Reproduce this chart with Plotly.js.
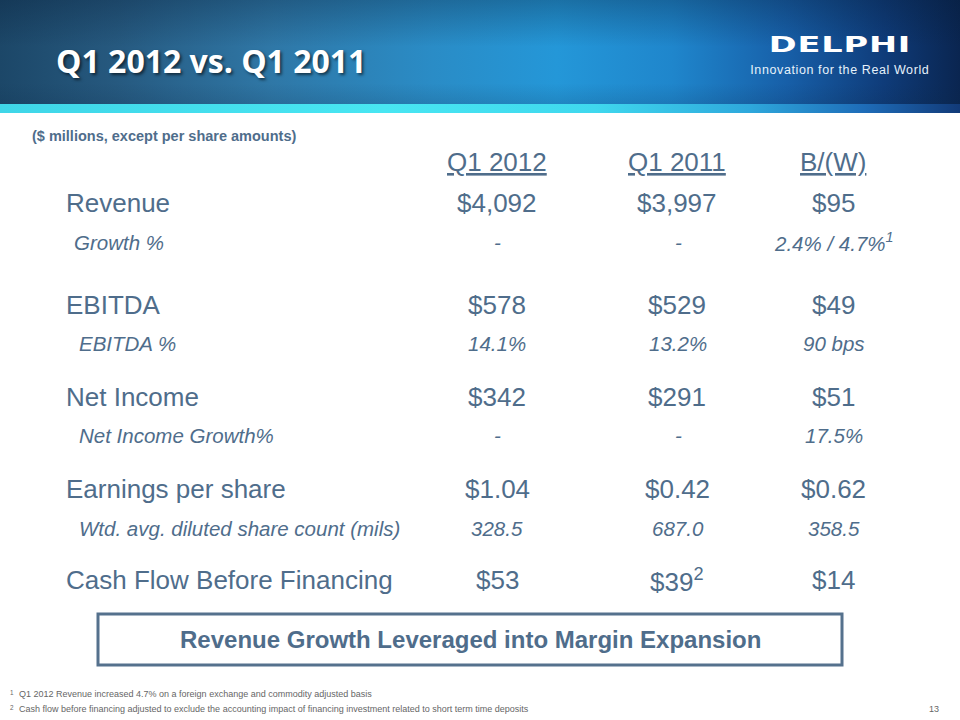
<!DOCTYPE html>
<html>
<head>
<meta charset="utf-8">
<script src="https://cdn.plot.ly/plotly-3.0.1.min.js"></script>
<style>
html,body{margin:0;padding:0;background:#ffffff;}
#wrap{position:relative;width:960px;height:720px;overflow:hidden;background:#ffffff;}
#hdr{position:absolute;left:0;top:0;width:960px;height:104px;
  background:
    linear-gradient(180deg, rgba(5,25,50,0.30) 0%, rgba(0,0,0,0) 45%, rgba(0,0,0,0) 80%, rgba(10,40,70,0.15) 100%),
    linear-gradient(90deg, #1c4768 0%, #26597f 12%, #2f77a6 28%, #2a8cc6 45%, #2497d8 58%, #1f86cc 70%, #175fa8 82%, #0f3c7a 92%, #0a2550 100%);}
#strip{position:absolute;left:0;top:104px;width:960px;height:9px;
  background: linear-gradient(90deg, #3fd6e8 0%, #48e6f2 40%, #3fd8ee 62%, #2ea8dc 78%, #1e6cb8 90%, #123a78 100%);}
#chart{position:absolute;left:0;top:0;width:960px;height:720px;}
</style>
</head>
<body>
<div id="wrap">
  <div id="hdr"></div>
  <div id="strip"></div>
  <div id="chart"></div>
</div>
<script>
// ---- data ----
const slideTitle = 'Q1 2012 vs. Q1 2011';
const unitsNote = '($ millions, except per share amounts)';
const columnHeaders = ['Q1 2012', 'Q1 2011', 'B/(W)'];
const rowLabels = ['Revenue', 'Growth %', 'EBITDA', 'EBITDA %', 'Net Income',
  'Net Income Growth%', 'Earnings per share', 'Wtd. avg. diluted share count (mils)',
  'Cash Flow Before Financing'];
const q1_2012 = ['$4,092', '-', '$578', '14.1%', '$342', '-', '$1.04', '328.5', '$53'];
const q1_2011 = ['$3,997', '-', '$529', '13.2%', '$291', '-', '$0.42', '687.0', '$39<sup>2</sup>'];
const betterWorse = ['$95', '2.4% / 4.7%<sup>1</sup>', '$49', '90 bps', '$51', '17.5%', '$0.62', '358.5', '$14'];
const takeaway = 'Revenue Growth Leveraged into Margin Expansion';
const footnotes = ['Q1 2012 Revenue increased 4.7% on a foreign exchange and commodity adjusted basis',
  'Cash flow before financing adjusted to exclude the accounting impact of financing investment related to short term time deposits'];
const pageNumber = '13';

// ---- layout helpers ----
const TXT = '#4f6d8b';
const rowY = [203, 242, 305, 343, 397, 435, 489, 528, 580];
const isMain = [true, false, true, false, true, false, true, false, true];
const subLabelX = [0, 72, 0, 77, 0, 77, 0, 77, 0];
const colXMain = [497, 677, 833];
const colXSub = [497, 678, 834];
const columns = [q1_2012, q1_2011, betterWorse];

const ann = [];
// title
ann.push({x: 54, y: 60, text: '<b>' + slideTitle + '</b>', xanchor: 'left', yanchor: 'middle',
  font: {family: 'Open Sans', size: 32, color: '#ffffff', weight: 700, shadow: '2px 2px 3px rgba(0,0,0,0.55)'}});
// logo
ann.push({x: 840, y: 45, text: 'DELPHI', xanchor: 'center', yanchor: 'middle',
  font: {family: 'DejaVu Sans', size: 21, color: '#ffffff', weight: 700}});
ann.push({x: 840, y: 70, text: 'Innovation for the Real World', xanchor: 'center', yanchor: 'middle',
  font: {family: 'Liberation Sans', size: 12.5, color: '#e6f2fb'}});
// units note
ann.push({x: 30, y: 136, text: '<b>' + unitsNote + '</b>', xanchor: 'left', yanchor: 'middle',
  font: {family: 'Liberation Sans', size: 14.5, color: TXT}});
// column headers
columnHeaders.forEach((h, i) => {
  ann.push({x: colXMain[i], y: 162, text: '<u>' + h + '</u>', xanchor: 'center', yanchor: 'middle',
    font: {family: 'Liberation Sans', size: 26, color: TXT}});
});
// rows
rowLabels.forEach((lab, r) => {
  const main = isMain[r];
  ann.push({x: main ? 64 : subLabelX[r], y: rowY[r], text: lab, xanchor: 'left', yanchor: 'middle',
    font: {family: 'Liberation Sans', size: main ? 26 : 20.5, color: TXT, style: main ? 'normal' : 'italic'}});
  columns.forEach((col, c) => {
    ann.push({x: main ? colXMain[c] : colXSub[c], y: rowY[r], text: col[r], xanchor: 'center', yanchor: 'middle',
      font: {family: 'Liberation Sans', size: main ? 26 : 20.5, color: TXT, style: main ? 'normal' : 'italic'}});
  });
});
// takeaway box text
ann.push({x: 470, y: 639, text: '<b>' + takeaway + '</b>', xanchor: 'center', yanchor: 'middle',
  font: {family: 'Liberation Sans', size: 24, color: TXT}});
// footnotes
footnotes.forEach((f, i) => {
  ann.push({x: 8, y: 692 + i * 15, text: '<sup>' + (i + 1) + '</sup>', xanchor: 'left', yanchor: 'middle',
    font: {family: 'Liberation Sans', size: 9, color: '#666666'}});
  ann.push({x: 17, y: 694 + i * 15, text: f, xanchor: 'left', yanchor: 'middle',
    font: {family: 'Liberation Sans', size: 9, color: '#666666'}});
});
ann.push({x: 941, y: 709, text: pageNumber, xanchor: 'right', yanchor: 'middle',
  font: {family: 'Liberation Sans', size: 9, color: '#666666'}});

ann.forEach(a => { a.xref = 'x'; a.yref = 'y'; a.showarrow = false; });

const layout = {
  width: 960, height: 720,
  margin: {l: 0, r: 0, t: 0, b: 0, pad: 0},
  paper_bgcolor: 'rgba(0,0,0,0)', plot_bgcolor: 'rgba(0,0,0,0)',
  xaxis: {range: [0, 960], visible: false, fixedrange: true},
  yaxis: {range: [720, 0], visible: false, fixedrange: true},
  showlegend: false,
  annotations: ann,
  shapes: [{type: 'rect', xref: 'x', yref: 'y', x0: 98, x1: 842, y0: 614, y1: 665,
    line: {color: '#55718d', width: 3}, fillcolor: 'rgba(255,255,255,0)'}]
};

Plotly.newPlot('chart', [], layout, {displayModeBar: false, staticPlot: true}).then(() => {
  document.querySelectorAll('.annotation-text').forEach(t => {
    if (t.textContent === 'DELPHI') {
      t.style.transformBox = 'fill-box';
      t.style.transformOrigin = 'center';
      t.style.transform = 'scaleX(1.6)';
      t.style.letterSpacing = '0.5px';
    }
    if (t.textContent === 'Innovation for the Real World') {
      t.style.letterSpacing = '0.6px';
    }
  });
});
</script>
</body>
</html>
